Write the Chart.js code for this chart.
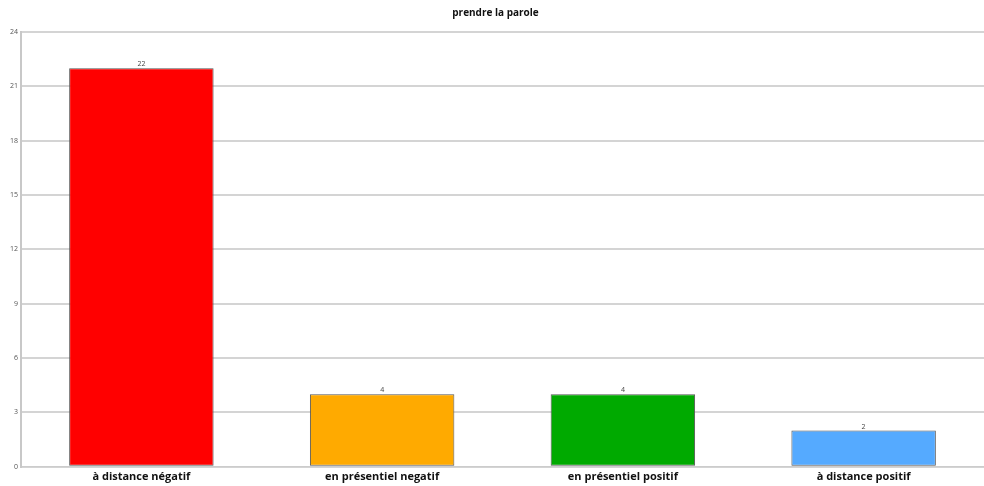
<!DOCTYPE html>
<html>
<head>
<meta charset="utf-8">
<script src="https://cdn.jsdelivr.net/npm/chart.js@4"></script>
<style>
html,body{margin:0;padding:0;background:#fff;}
#wrap{width:984px;height:486px;position:relative;}
</style>
</head>
<body>
<div id="wrap"><canvas id="c" width="984" height="486"></canvas></div>
<script>
const categories = ["à distance négatif", "en présentiel negatif", "en présentiel positif", "à distance positif"];
const counts = [22, 4, 4, 2];
const barColors = ["#ff0000", "#ffaa00", "#00aa00", "#55aaff"];
const yTicks = [0, 3, 6, 9, 12, 15, 18, 21, 24];

const valueLabels = {
  id: 'valueLabels',
  afterDatasetsDraw(chart) {
    const ctx = chart.ctx;
    const meta = chart.getDatasetMeta(0);
    ctx.save();
    ctx.font = '7px "Open Sans", sans-serif';
    ctx.fillStyle = '#444';
    ctx.textAlign = 'center';
    ctx.textBaseline = 'bottom';
    meta.data.forEach((bar, i) => {
      ctx.fillText(String(counts[i]), bar.x, bar.y - 0.5);
    });
    ctx.restore();
  }
};

new Chart(document.getElementById('c'), {
  type: 'bar',
  data: {
    labels: categories,
    datasets: [{
      data: counts,
      backgroundColor: barColors,
      borderColor: '#555555',
      borderWidth: 1,
      borderSkipped: false,
      categoryPercentage: 1,
      barPercentage: 0.6
    }]
  },
  options: {
    responsive: false,
    animation: false,
    devicePixelRatio: 1,
    layout: { padding: { left: 7, right: 0, top: 0, bottom: 0 } },
    plugins: {
      legend: { display: false },
      tooltip: { enabled: false },
      title: {
        display: true,
        text: 'prendre la parole',
        color: '#111',
        font: { family: '"Open Sans", sans-serif', size: 10, weight: 'bold' },
        padding: { top: 7, bottom: 13 }
      }
    },
    scales: {
      x: {
        grid: { display: false, drawTicks: false },
        border: { display: true, color: '#cccccc', width: 1 },
        ticks: {
          color: '#111',
          font: { family: '"Open Sans", sans-serif', size: 11, weight: 'bold' },
          padding: 3,
          maxRotation: 0
        }
      },
      y: {
        min: 0,
        max: 24,
        afterBuildTicks(axis) { axis.ticks = yTicks.map(v => ({ value: v })); },
        grid: { color: '#d4d4d4', lineWidth: 2, drawTicks: false },
        border: { display: true, color: '#c8c8c8', width: 2 },
        ticks: {
          color: '#555',
          font: { family: '"Open Sans", sans-serif', size: 7 },
          padding: 3
        }
      }
    }
  },
  plugins: [valueLabels]
});
</script>
</body>
</html>
